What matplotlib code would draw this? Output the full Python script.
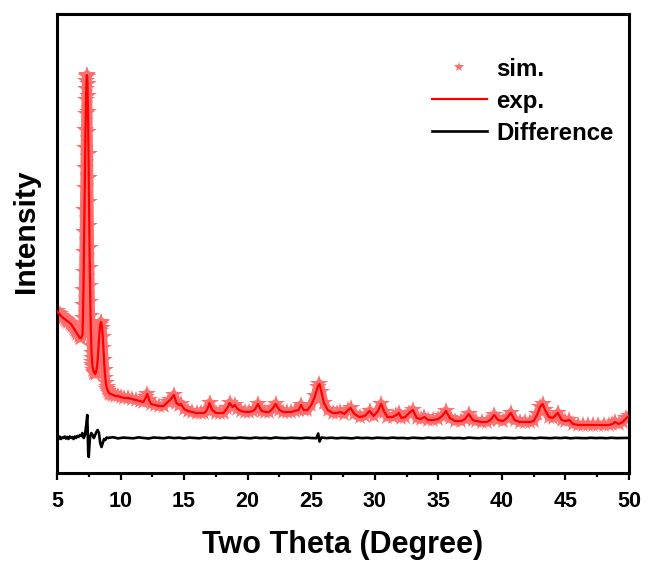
import numpy as np
import matplotlib as mpl
mpl.use('Agg')
from matplotlib import pyplot as plt
from matplotlib.ticker import MultipleLocator

# measured pattern (2theta in degree, intensity in arbitrary units)
two_theta = [
    5.0, 5.1, 5.2, 5.3, 5.4, 5.5, 5.6, 5.7, 5.8, 5.9,
    6.0, 6.1, 6.2, 6.3, 6.4, 6.5, 6.6, 6.7, 6.8, 6.9,
    7.00, 7.02, 7.04, 7.06, 7.08, 7.10, 7.12, 7.14, 7.16, 7.18,
    7.20, 7.22, 7.24, 7.26, 7.28, 7.30, 7.32, 7.34, 7.36, 7.38,
    7.40, 7.42, 7.44, 7.46, 7.48, 7.50, 7.52, 7.54, 7.56, 7.58,
    7.60, 7.62, 7.64, 7.66, 7.68, 7.70, 7.72, 7.74, 7.76, 7.78,
    7.80, 7.85, 7.9, 7.95, 8.0, 8.05, 8.1, 8.15, 8.20, 8.25,
    8.30, 8.35, 8.40, 8.45, 8.50, 8.55, 8.60, 8.65, 8.70, 8.75,
    8.80, 8.85, 8.90, 8.95, 9.0, 9.1, 9.2, 9.3, 9.4, 9.6,
    9.8, 10.0, 10.3, 10.6, 10.9, 11.2, 11.5, 11.8,
    12.0, 12.1, 12.25, 12.4, 12.7, 13.0, 13.4, 13.7, 13.9, 14.2,
    14.4, 14.6, 14.75, 15.0, 15.3, 15.6, 16.0, 16.3, 16.6, 16.8,
    17.0, 17.2, 17.5, 17.8, 18.1, 18.4, 18.6, 18.8, 19.0, 19.2,
    19.5, 19.8, 20.1, 20.4, 20.6, 20.8, 21.1, 21.4, 21.7, 22.0,
    22.2, 22.5, 22.8, 23.1, 23.4, 23.7, 24.0, 24.2, 24.4, 24.7,
    25.0, 25.3, 25.5, 25.65, 25.8, 26.0, 26.3, 26.7, 27.0, 27.3,
    27.6, 27.9, 28.1, 28.4, 28.8, 29.2, 29.6, 29.9, 30.2, 30.5,
    30.75, 31.0, 31.4, 31.7, 31.9, 32.1, 32.4, 32.7, 33.0, 33.3,
    33.6, 33.9, 34.2, 34.6, 35.0, 35.3, 35.6, 35.9, 36.3, 36.8,
    37.1, 37.4, 37.7, 38.0, 38.4, 38.8, 39.1, 39.4, 39.7, 40.1,
    40.4, 40.7, 41.0, 41.4, 41.8, 42.2, 42.5, 42.8, 43.0, 43.2,
    43.4, 43.7, 44.0, 44.4, 44.7, 45.0, 45.3, 45.6, 46.0, 46.4,
    46.8, 47.2, 47.6, 48.0, 48.4, 48.7, 48.9, 49.2, 49.5, 49.8,
    50.0,
]
exp_int = [
    162, 160, 159, 157, 156, 155, 154, 153, 152, 151,
    150, 149, 147, 145, 143, 141, 139, 137, 135, 135,
    138, 145, 155, 168, 183, 201, 221, 241, 263, 285,
    305, 325, 343, 359, 373, 384, 392, 397, 398, 396,
    389, 377, 361, 341, 319, 295, 271, 247, 225, 205,
    187, 171, 157, 145, 135, 127, 120, 115, 111, 108,
    106, 103, 101, 100, 99, 100, 103, 107, 113, 123,
    133, 142, 148, 151, 150, 145, 136, 125, 113, 103,
    95, 90, 86, 84, 82, 80, 79, 79, 78, 77,
    77, 76, 75, 75, 74, 73, 72, 71,
    76, 79, 73, 69, 68, 67, 67, 71, 73, 78,
    70, 68, 69, 64, 62, 61, 60, 60, 60, 63,
    70, 63, 60, 60, 60, 65, 70, 66, 68, 64,
    62, 61, 61, 62, 64, 69, 62, 61, 61, 65,
    69, 63, 61, 61, 61, 62, 63, 68, 63, 63,
    68, 77, 86, 89, 81, 70, 63, 60, 60, 61,
    59, 63, 65, 59, 56, 57, 62, 57, 61, 69,
    61, 56, 56, 58, 60, 55, 56, 60, 63, 55,
    54, 56, 53, 53, 54, 57, 62, 55, 52, 52,
    54, 59, 53, 52, 51, 51, 53, 58, 53, 52,
    55, 60, 53, 51, 51, 51, 52, 59, 66, 69,
    63, 56, 55, 60, 53, 52, 53, 49, 48, 48,
    48, 48, 48, 48, 48, 49, 51, 49, 51, 55,
    57,
]
# simulated pattern lies on the measured one to within a pixel
sim_int = list(exp_int)

# difference curve (exp - sim, shifted down)
diff_theta = [
    5.0, 5.1, 5.2, 5.3, 5.4, 5.5, 5.6, 5.7, 5.8, 5.9,
    6.0, 6.1, 6.2, 6.3, 6.4, 6.5, 6.6, 6.7, 6.8, 6.9,
    7.0, 7.1, 7.2, 7.3, 7.38, 7.42, 7.46, 7.5, 7.55, 7.6,
    7.7, 7.8, 7.9, 8.0, 8.1, 8.2, 8.3, 8.4, 8.5, 8.6,
    8.7, 8.8, 8.9, 9.0, 9.4, 9.8, 10.2, 10.6, 11.0, 11.4,
    11.8, 12.2, 12.6, 13.0, 13.4, 13.8, 14.2, 14.6, 15.0, 15.4,
    15.8, 16.2, 16.6, 17.0, 17.4, 17.8, 18.2, 18.6, 19.0, 19.4,
    19.8, 20.2, 20.6, 21.0, 21.4, 21.8, 22.2, 22.6, 23.0, 23.4,
    23.8, 24.2, 24.6, 25.0, 25.4, 25.55, 25.65, 25.8, 26.2, 26.6,
    27.0, 27.4, 27.8, 28.2, 28.6, 29.0, 29.4, 29.8, 30.2, 30.6,
    31.0, 31.4, 31.8, 32.2, 32.6, 33.0, 33.4, 33.8, 34.2, 34.6,
    35.0, 35.4, 35.8, 36.2, 36.6, 37.0, 37.4, 37.8, 38.2, 38.6,
    39.0, 39.4, 39.8, 40.2, 40.6, 41.0, 41.4, 41.8, 42.2, 42.6,
    43.0, 43.4, 43.8, 44.2, 44.6, 45.0, 45.4, 45.8, 46.2, 46.6,
    47.0, 47.4, 47.8, 48.2, 48.6, 49.0, 49.4, 49.8, 50.0,
]
diff_int = [
    36, 34, 36.5, 34, 35.5, 35, 36.5, 34.5, 36, 34,
    36.5, 35, 36, 34, 36.5, 35, 37, 36, 38, 37,
    40, 35, 38, 48, 58, 40, 18, 16, 28, 36,
    40, 38, 35, 38, 41, 43, 40, 30, 26, 30,
    34, 33, 35.5, 35, 35.8, 34.6, 35.4, 35.1, 34.7, 35.6,
    35.0, 34.5, 35.5, 35.2, 34.8, 35.6, 34.9, 35.3, 34.6, 35.4,
    35.0, 34.7, 35.5, 34.9, 35.3, 34.6, 35.4, 35.0, 34.8, 35.5,
    35.1, 34.7, 35.4, 34.9, 35.2, 34.6, 35.5, 35.0, 34.8, 35.3,
    35.0, 34.7, 35.4, 35.0, 34.8, 39.5, 31.5, 35.5, 34.9, 35.3,
    34.7, 35.2, 35.0, 34.6, 35.4, 34.9, 35.2, 34.7, 35.3, 35.0,
    34.8, 35.4, 34.9, 35.1, 34.6, 35.3, 35.0, 34.7, 35.4, 34.9,
    35.2, 34.8, 35.3, 34.9, 35.1, 34.6, 35.4, 35.0, 34.8, 35.3,
    34.9, 35.2, 34.7, 35.3, 35.0, 34.8, 35.4, 34.9, 35.1, 34.7,
    35.3, 35.0, 34.8, 35.2, 34.9, 35.3, 34.7, 35.1, 35.0, 34.8,
    35.2, 34.9, 35.1, 34.8, 35.2, 34.9, 35.0, 35.1, 34.9,
]


def main():
    mpl.rc('font', family='Liberation Sans', weight='bold')

    star_color = '#ff6f6f'

    fig = plt.figure(figsize=(6.49, 5.63), dpi=100)
    ax = fig.add_axes([57 / 649, 90 / 563, 572 / 649, 459 / 563])

    # dense star markers merge into a band in the original; a wide line under them fills the gaps
    ax.plot(two_theta, sim_int, color=star_color, lw=6.5, solid_joinstyle='round',
            solid_capstyle='round', zorder=1)
    ax.plot(two_theta, sim_int, linestyle='none', marker='*', markersize=13,
            markeredgewidth=0, color=star_color, label='sim.', zorder=2)
    ax.plot(two_theta, exp_int, color='#ff0000', lw=1.6, label='exp.', zorder=3)
    ax.plot(diff_theta, diff_int, color='black', lw=1.9, label='Difference', zorder=4)

    ax.set_xlim(5, 50)
    ax.set_ylim(0, 459)
    ax.xaxis.set_major_locator(MultipleLocator(5))
    ax.xaxis.set_minor_locator(MultipleLocator(2.5))
    ax.tick_params(axis='x', which='major', direction='out', length=5, width=1.6,
                   labelsize=15.5, pad=8)
    ax.tick_params(axis='x', which='minor', direction='out', length=3, width=1.6)
    ax.set_yticks([])
    for s in ax.spines.values():
        s.set_linewidth(2.2)

    ax.set_xlabel('Two Theta (Degree)', fontsize=22, fontweight='bold', labelpad=13)
    ax.set_ylabel('Intensity', fontsize=21.7, fontweight='bold')
    ax.yaxis.set_label_coords(-0.03, 0.527)

    legend = ax.legend(loc='upper left', bbox_to_anchor=(0.655, 0.905), frameon=False,
                       fontsize=17.3, handlelength=2.3, handletextpad=0.4,
                       labelspacing=0.38, borderpad=0, borderaxespad=0, markerscale=0.55)

    plt.savefig('out.png', dpi=100)


if __name__ == '__main__':
    main()
